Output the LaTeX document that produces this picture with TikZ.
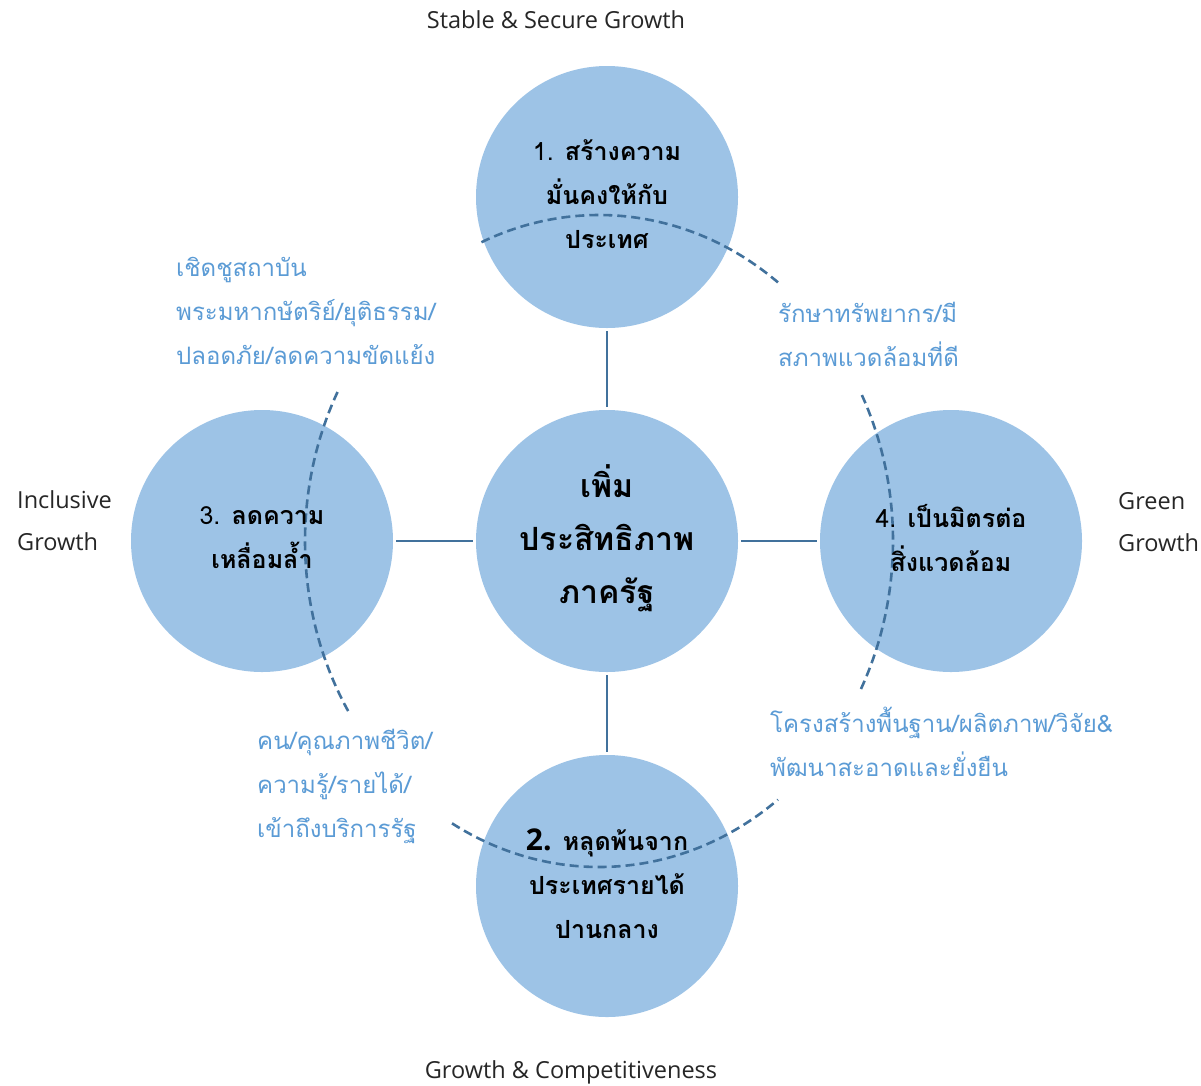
\documentclass[tikz,border=0pt]{standalone}
\usepackage{fontspec}
\setmainfont{Open Sans}
\newfontfamily\thai[Script=Thai]{Loma}
\definecolor{circfill}{HTML}{9DC3E6}
\definecolor{linec}{HTML}{41719C}
\definecolor{labblue}{HTML}{5B9BD5}
\definecolor{engtext}{HTML}{262626}
\tikzset{
  goal/.style={circle, fill=circfill, minimum size=262pt, inner sep=0pt, align=center, text=black,
    font=\thai\fontsize{25}{44}\selectfont},
  hub/.style={goal, font=\thai\bfseries\fontsize{32}{53}\selectfont},
  conn/.style={draw=linec, line width=2.4pt, shorten <=3pt, shorten >=3pt},
  ring/.style={draw=linec, line width=2.6pt, dash pattern=on 9pt off 5pt},
  sub/.style={text=labblue, align=left, anchor=west, inner sep=0pt,
    font=\thai\fontsize{24}{44}\selectfont},
  eng/.style={text=engtext, inner sep=0pt, font=\fontsize{23.5}{42}\selectfont}
}
\begin{document}
\begin{tikzpicture}[x=1pt,y=-1pt]
\useasboundingbox (0,0) rectangle (1201,1085);
% circles
\node[goal] (g1) at (607,197) {};
\node[hub] (c) at (607,541) {};
\node[goal] (g3) at (262,541) {};
\node[goal] (g4) at (951,541) {};
\node[goal] (g2) at (607,886) {};
% connectors
\draw[conn] (g1) -- (c);
\draw[conn] (c) -- (g2);
\draw[conn] (g3) -- (c);
\draw[conn] (c) -- (g4);
% dashed ring arcs (ellipse)
\draw[ring] plot[domain=52.5:114, samples=60, smooth] ({599+294*cos(\x)},{541-326*sin(\x)});
\draw[ring] plot[domain=152.8:211.8, samples=60, smooth] ({599+294*cos(\x)},{541-326*sin(\x)});
\draw[ring] plot[domain=240:307.5, samples=60, smooth] ({599+294*cos(\x)},{541-326*sin(\x)});
\draw[ring] plot[domain=-27:26.6, samples=60, smooth] ({599+294*cos(\x)},{541-326*sin(\x)});
% circle texts
\node[align=center, font=\thai\fontsize{25}{44}\selectfont] (t1) at (607,194) {1. {\bfseries สร้างความ}\\{\bfseries มั่นคงให้กับ}\\{\bfseries ประเทศ}};
\node[align=center, font=\thai\bfseries\fontsize{32}{53}\selectfont] (tc) at (607,538) {เพิ่ม\\ประสิทธิภาพ\\ภาครัฐ};
\node[align=center, font=\thai\fontsize{25}{44}\selectfont] (t3) at (262,538) {3. {\bfseries ลดความ}\\{\bfseries เหลื่อมล้ำ}};
\node[align=center, font=\thai\fontsize{25}{44}\selectfont] (t4) at (951,538) {4. {\bfseries เป็นมิตรต่อ}\\{\bfseries สิ่งแวดล้อม}};
\node[align=center, font=\thai\fontsize{25}{44}\selectfont] (t2) at (607,884) {{\fontspec{Open Sans Bold}\fontsize{30}{44}\selectfont 2.} {\bfseries หลุดพ้นจาก}\\{\bfseries ประเทศรายได้}\\{\bfseries ปานกลาง}};
% sub labels
\node[sub] (s1) at (176,311) {เชิดชูสถาบัน\\พระมหากษัตริย์/ยุติธรรม/\\ปลอดภัย/ลดความขัดแย้ง};
\node[sub] (s4) at (778,334) {รักษาทรัพยากร/มี\\สภาพแวดล้อมที่ดี};
\node[sub] (s3) at (257,786) {คน/คุณภาพชีวิต/\\ความรู้/รายได้/\\เข้าถึงบริการรัฐ};
\node[sub] (s2) at (770,742) {โครงสร้างพื้นฐาน/ผลิตภาพ/วิจัย\&\\พัฒนาสะอาดและยั่งยืน};
% english labels
\node[eng] (e1) at (556,20) {Stable \& Secure Growth};
\node[eng] (e2) at (571,1072) {Growth \& Competitiveness};
\node[eng, align=left, anchor=west] (e3) at (17,521) {Inclusive\\Growth};
\node[eng, align=left, anchor=west] (e4) at (1118,522) {Green\\Growth};
\end{tikzpicture}
\end{document}
